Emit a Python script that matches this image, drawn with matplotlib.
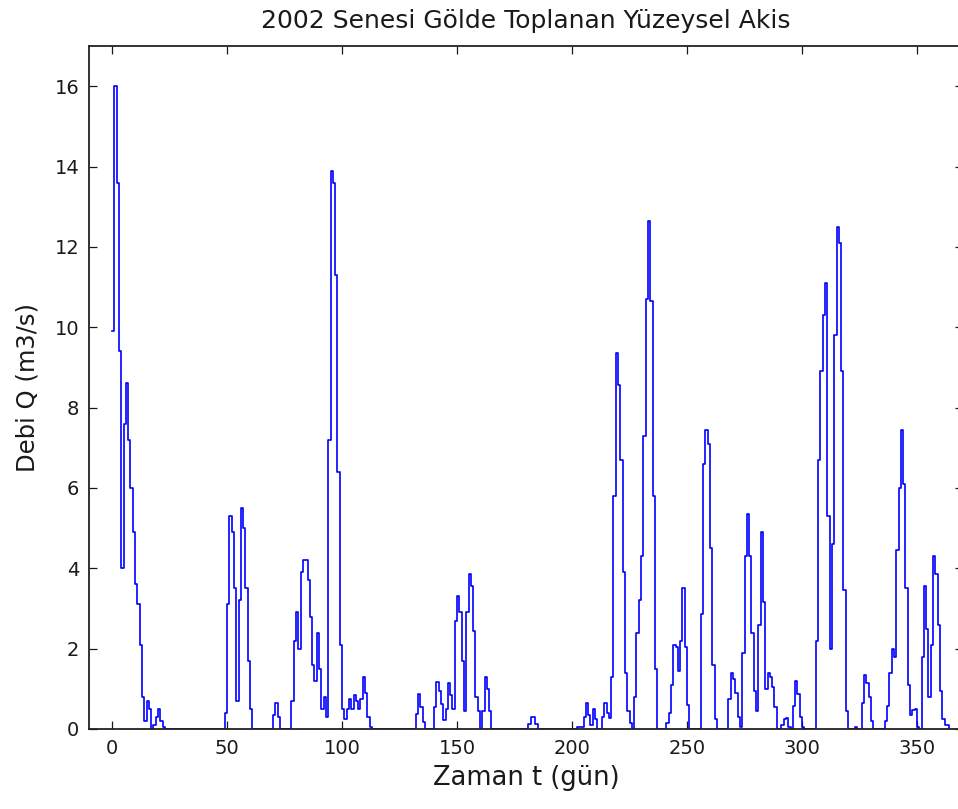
import matplotlib
matplotlib.use("Agg")
import matplotlib.pyplot as plt
import numpy as np

# Daily surface runoff (m3/s) collected in the lake, 2002, read per month
q_jan = [9.9, 16.0, 13.6, 9.4, 4.0, 7.6, 8.6, 7.2, 6.0, 4.9, 3.6, 3.1, 2.1, 0.8, 0.2, 0.7,
         0.5, 0, 0.1, 0.3, 0.5, 0.2, 0.05, 0, 0, 0, 0, 0, 0, 0, 0]
q_feb = [0, 0, 0, 0, 0, 0, 0, 0, 0, 0, 0, 0, 0, 0, 0, 0, 0, 0,
         0.4, 3.1, 5.3, 4.9, 3.5, 0.7, 3.2, 5.5, 5.0, 3.5]
q_mar = [1.7, 0.5, 0, 0, 0, 0, 0, 0, 0, 0, 0, 0.35, 0.65, 0.3, 0, 0, 0, 0, 0,
         0.7, 2.2, 2.9, 2.0, 3.9, 4.2, 4.2, 3.7, 2.8, 1.6, 1.2, 2.4]
q_apr = [1.5, 0.5, 0.8, 0.3, 7.2, 13.9, 13.6, 11.3, 6.4, 2.1, 0.5, 0.25, 0.5, 0.75, 0.5,
         0.84, 0.7, 0.5, 0.75, 1.3, 0.9, 0.3, 0.05, 0, 0, 0, 0, 0, 0, 0]
q_may = [0, 0, 0, 0, 0, 0, 0, 0, 0, 0, 0, 0, 0.37, 0.87, 0.54, 0.17, 0, 0, 0, 0,
         0.54, 1.18, 0.95, 0.62, 0.22, 0.5, 1.15, 0.85, 0.5, 2.7, 3.3]
q_jun = [2.9, 1.7, 0.45, 2.9, 3.85, 3.55, 2.45, 0.8, 0.45, 0, 0.45, 1.3, 1.0, 0.45,
         0, 0, 0, 0, 0, 0, 0, 0, 0, 0, 0, 0, 0, 0, 0, 0]
q_jul = [0.12, 0.31, 0.31, 0.12, 0, 0, 0, 0, 0, 0, 0, 0, 0, 0, 0, 0, 0, 0, 0, 0, 0,
         0.05, 0.05, 0.05, 0.3, 0.65, 0.35, 0.1, 0.5, 0.25, 0]
q_aug = [0, 0.3, 0.65, 0.4, 0.27, 1.3, 5.8, 9.35, 8.55, 6.7, 3.9, 1.4, 0.45, 0.15, 0,
         0.8, 2.4, 3.2, 4.3, 7.3, 10.7, 12.65, 10.65, 5.8, 1.5, 0, 0, 0, 0, 0.15, 0.4]
q_sep = [1.1, 2.1, 2.05, 1.45, 2.2, 3.5, 2.05, 0.6, 0, 0, 0, 0, 0,
         2.85, 6.6, 7.45, 7.1, 4.5, 1.6, 0.25, 0, 0, 0, 0, 0, 0.75, 1.4, 1.25, 0.9, 0.3]
q_oct = [0.06, 1.9, 4.3, 5.35, 4.3, 2.4, 0.95, 0.45, 2.6, 4.9, 3.15, 1.0, 1.4, 1.3, 1.05,
         0.55, 0, 0, 0.1, 0.25, 0.27, 0.05, 0, 0.57, 1.2, 0.86, 0.3, 0.06, 0, 0, 0]
q_nov = [0, 0, 2.2, 6.7, 8.9, 10.3, 11.1, 5.3, 2.0, 4.6, 9.8, 12.5, 12.1, 8.9, 3.45, 0.45,
         0, 0, 0, 0.05, 0, 0, 0.65, 1.35, 1.15, 0.8, 0.2, 0, 0, 0]
q_dec = [0, 0, 0.2, 0.57, 1.4, 2.0, 1.8, 4.45, 6.0, 7.45, 6.1, 3.5, 1.1, 0.36, 0.48, 0.5,
         0.05, 0, 1.8, 3.55, 2.5, 0.8, 2.1, 4.3, 3.85, 2.6, 0.95, 0.25, 0.1, 0.1, 0]

x_ticks = [0, 50, 100, 150, 200, 250, 300, 350]
y_ticks = [0, 2, 4, 6, 8, 10, 12, 14, 16]

q = np.array(q_jan + q_feb + q_mar + q_apr + q_may + q_jun +
             q_jul + q_aug + q_sep + q_oct + q_nov + q_dec)
t = np.arange(len(q))

plt.rcParams['font.family'] = ['DejaVu Sans']

fig = plt.figure(figsize=(9.58, 8.09), dpi=100)
ax = fig.add_axes([89 / 958, 80 / 809, 874 / 958, 683 / 809])

# stairs-like plot, matlab style (axes box drawn over the zero runs)
ax.step(t, q, where='post', color='#0000ff', linewidth=1.2, zorder=2)

ax.set_xlim(-10, 370)
ax.set_ylim(0, 17)
ax.set_xticks(x_ticks)
ax.set_yticks(y_ticks)
ax.tick_params(direction='in', length=5.5, width=0.9, top=True, right=True,
               labelsize=14, pad=7, colors='#1a1a1a')
for s in ax.spines.values():
    s.set_linewidth(1.3)
    s.set_color('#222222')
    s.set_zorder(3)

ax.set_title('2002 Senesi Gölde Toplanan Yüzeysel Akis', fontsize=18, pad=13, color='#1a1a1a')
ax.set_xlabel('Zaman t (gün)', fontsize=18.5, labelpad=5, color='#1a1a1a')
ax.set_ylabel('Debi Q (m3/s)', fontsize=17.5, labelpad=11, color='#1a1a1a')

fig.savefig('out.png', dpi=100, facecolor='white')
